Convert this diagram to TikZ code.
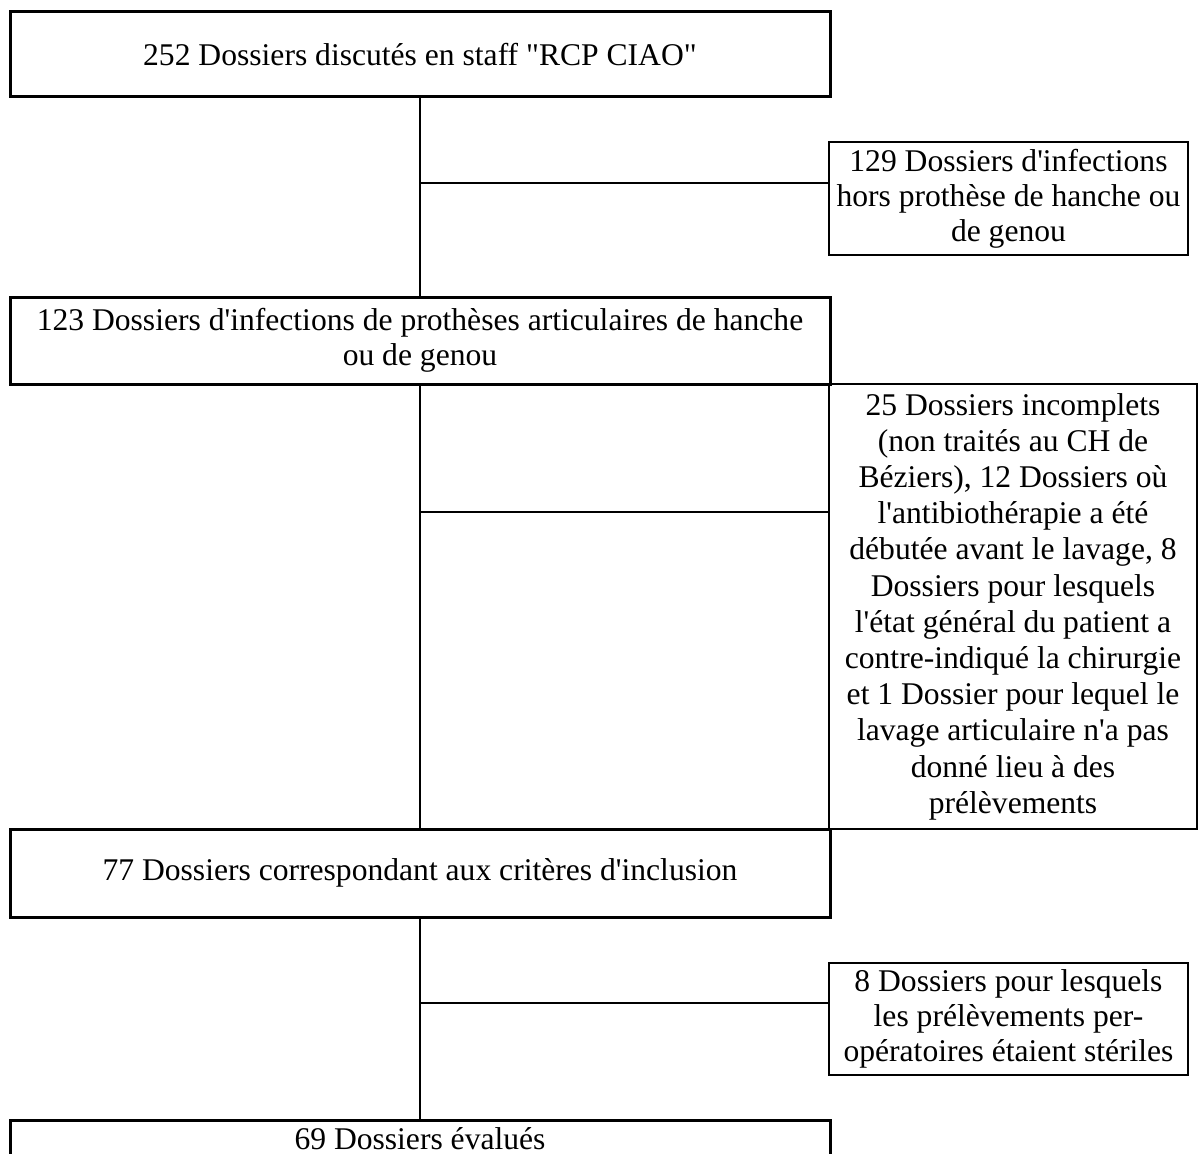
\documentclass[tikz,border=0pt]{standalone}
\usepackage{fontspec}
\setmainfont{Liberation Serif}
\newcommand{\ap}{\textquotesingle}
\newcommand{\dq}{\textquotedbl}

\begin{document}
\begin{tikzpicture}[x=1pt,y=-1pt,
  main box/.style={rectangle,draw,line width=3pt,outer sep=0pt,inner sep=0pt,
    minimum width=820pt,align=center,
    font=\fontsize{31.6pt}{35pt}\selectfont},
  side box/.style={rectangle,draw,line width=2pt,outer sep=0pt,inner sep=0pt,
    align=center,font=\fontsize{31.6pt}{35pt}\selectfont},
  link/.style={line width=2pt}]

  \useasboundingbox[fill=white] (0,0) rectangle (1198,1153);

  % main column
  \node[main box,minimum height=85pt] (b1) at (420,54.5)
    {252 Dossiers discutés en staff \dq RCP CIAO\dq};
  \node[main box,minimum height=87pt] (b2) at (420,340.5)
    {123 Dossiers d\ap infections de prothèses articulaires de hanche\\ou de genou};
  \node[main box,minimum height=88pt] (b3) at (420,873)
    {77 Dossiers correspondant aux critères d\ap inclusion};
  \node[main box,anchor=north,inner ysep=8pt] (b4) at (420,1120)
    {69 Dossiers évalués};

  % excluded
  \node[side box,minimum width=359pt,minimum height=113pt] (s1) at (1008.5,198.5)
    {129 Dossiers d\ap infections\\hors prothèse de hanche ou\\de genou};
  \node[side box,minimum width=368pt,minimum height=445pt,
    font=\fontsize{31.6pt}{36.2pt}\selectfont] (s2) at (1013,606.5)
    {25 Dossiers incomplets\\(non traités au CH de\\Béziers), 12 Dossiers où\\
     l\ap antibiothérapie a été\\débutée avant le lavage, 8\\Dossiers pour lesquels\\
     l\ap état général du patient a\\contre-indiqué la chirurgie\\
     et 1 Dossier pour lequel le\\lavage articulaire n\ap a pas\\donné lieu à des\\prélèvements};
  \node[side box,minimum width=359pt,minimum height=112pt] (s3) at (1008.5,1019)
    {8 Dossiers pour lesquels\\les prélèvements per-\\opératoires étaient stériles};

  \coordinate (j1) at (420,183);
  \coordinate (j2) at (420,512);
  \coordinate (j3) at (420,1003);

  \path[link]
   (b1) edge (b2)
   (b2) edge (b3)
   (b3) edge (b4)
   (j1) edge (j1 -| s1.west)
   (j2) edge (j2 -| s2.west)
   (j3) edge (j3 -| s3.west);

\end{tikzpicture}
\end{document}
